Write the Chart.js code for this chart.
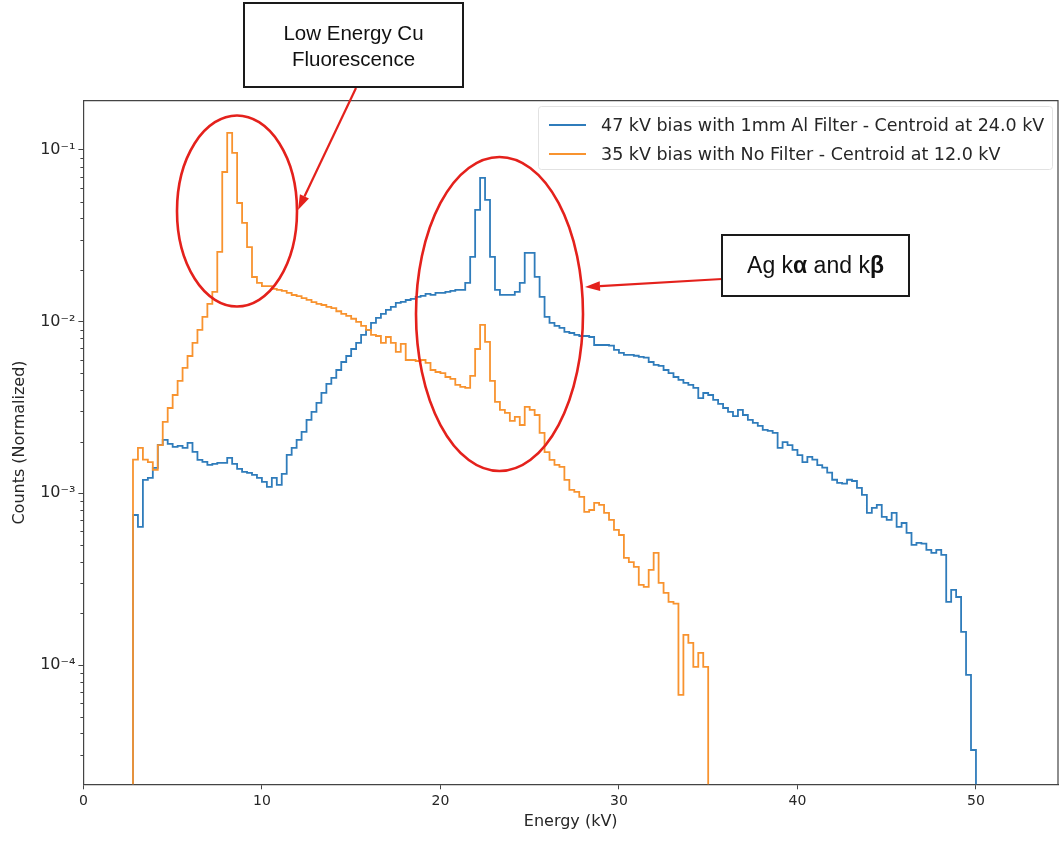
<!DOCTYPE html>
<html>
<head>
<meta charset="utf-8">
<script src="https://cdn.jsdelivr.net/npm/chart.js@4.4.1/dist/chart.umd.min.js"></script>
<style>
  html, body { margin: 0; padding: 0; background: #ffffff; }
  #wrap { width: 1061px; height: 841px; position: relative; }
</style>
</head>
<body>
<div id="wrap"><canvas id="spectrum" width="1061" height="841"></canvas></div>
<script>
// Histogram binning (kV): left edge of the first bin and bin width
const binStartKV = 2.778;
const binWidthKV = 0.2778;

// Normalized counts per bin, 47 kV tube bias through 1 mm Al
const filteredCounts = [
  7.48e-4, 6.37e-4, 1.197e-3, 1.229e-3, 1.406e-3, 1.913e-3, 2.046e-3, 1.939e-3, 1.863e-3, 1.888e-3,
  1.838e-3, 1.966e-3, 1.742e-3, 1.565e-3, 1.524e-3, 1.463e-3, 1.483e-3, 1.503e-3, 1.503e-3, 1.607e-3,
  1.483e-3, 1.387e-3, 1.332e-3, 1.315e-3, 1.280e-3, 1.229e-3, 1.165e-3, 1.090e-3, 1.229e-3, 1.119e-3,
  1.297e-3, 1.674e-3, 1.838e-3, 2.046e-3, 2.278e-3, 2.676e-3, 2.979e-3, 3.362e-3, 3.843e-3, 4.337e-3,
  4.699e-3, 5.23e-3, 5.82e-3, 6.31e-3, 6.93e-3, 7.52e-3, 8.37e-3, 8.95e-3, 9.83e-3, 1.051e-2,
  1.109e-2, 1.170e-2, 1.218e-2, 1.285e-2, 1.302e-2, 1.337e-2, 1.356e-2, 1.393e-2, 1.412e-2, 1.450e-2,
  1.431e-2, 1.470e-2, 1.470e-2, 1.489e-2, 1.510e-2, 1.530e-2, 1.530e-2, 1.680e-2, 2.381e-2, 4.472e-2,
  6.868e-2, 5.114e-2, 2.381e-2, 1.530e-2, 1.431e-2, 1.431e-2, 1.431e-2, 1.489e-2, 1.680e-2, 2.512e-2,
  2.512e-2, 1.822e-2, 1.393e-2, 1.065e-2, 9.83e-3, 9.44e-3, 9.19e-3, 8.71e-3, 8.59e-3, 8.37e-3,
  8.25e-3, 8.25e-3, 8.14e-3, 7.31e-3, 7.31e-3, 7.31e-3, 7.25e-3, 6.84e-3, 6.57e-3, 6.40e-3,
  6.40e-3, 6.33e-3, 6.23e-3, 6.18e-3, 5.82e-3, 5.60e-3, 5.52e-3, 5.23e-3, 5.02e-3, 4.76e-3,
  4.58e-3, 4.40e-3, 4.28e-3, 4.11e-3, 3.59e-3, 3.84e-3, 3.74e-3, 3.50e-3, 3.32e-3, 3.14e-3,
  2.98e-3, 2.82e-3, 3.06e-3, 2.86e-3, 2.68e-3, 2.57e-3, 2.47e-3, 2.34e-3, 2.31e-3, 2.25e-3,
  1.84e-3, 1.99e-3, 1.91e-3, 1.79e-3, 1.67e-3, 1.52e-3, 1.63e-3, 1.57e-3, 1.46e-3, 1.41e-3,
  1.32e-3, 1.20e-3, 1.15e-3, 1.14e-3, 1.20e-3, 1.18e-3, 1.075e-3, 9.79e-4, 7.69e-4, 8.22e-4,
  8.56e-4, 7.29e-4, 7.00e-4, 7.69e-4, 6.37e-4, 6.72e-4, 5.88e-4, 5.01e-4, 5.14e-4, 5.10e-4,
  4.68e-4, 4.50e-4, 4.68e-4, 4.38e-4, 2.33e-4, 2.74e-4, 2.49e-4, 1.559e-4, 8.77e-5, 3.20e-5
];

// Normalized counts per bin, 35 kV tube bias, unfiltered
const unfilteredCounts = [
  1.57e-3, 1.84e-3, 1.57e-3, 1.52e-3, 1.37e-3, 1.91e-3, 2.61e-3, 3.14e-3, 3.74e-3, 4.52e-3,
  5.38e-3, 6.31e-3, 7.52e-3, 8.95e-3, 1.065e-2, 1.268e-2, 1.489e-2, 2.55e-2, 7.44e-2, 0.1256,
  0.0961, 0.0491, 0.0376, 0.0272, 0.0182, 0.0168, 0.0161, 0.0161, 0.0155, 0.0153,
  0.0151, 0.0147, 0.0143, 0.0141, 0.0137, 0.0134, 0.0130, 0.0127, 0.0125, 0.0122,
  0.0120, 0.0115, 0.0111, 0.0108, 0.0104, 0.00996, 0.00944, 0.00895, 0.00837, 0.00825,
  0.00752, 0.00814, 0.00752, 0.00666, 0.00742, 0.00598, 0.00598, 0.00590, 0.00598, 0.00575,
  0.00523, 0.00509, 0.00502, 0.00476, 0.00464, 0.00428, 0.00417, 0.00411, 0.00483, 0.00693,
  0.00957, 0.00762, 0.00452, 0.00341, 0.00306, 0.00294, 0.00264, 0.00279, 0.00250, 0.00319,
  0.00306, 0.00286, 0.00225, 0.00174, 0.001565, 0.001463, 0.001425, 0.001197, 0.001047, 0.001019,
  0.000953, 0.000779, 0.000800, 0.000879, 0.000856, 0.000769, 0.000700, 0.000612, 0.000572, 0.000421,
  0.000398, 0.000373, 0.000293, 0.000285, 0.000358, 0.000450, 0.000301, 0.000263, 0.000233, 0.000228,
  0.000067, 0.0001497, 0.0001345, 0.0000975, 0.0001176, 0.0000975
];

const seriesLabels = [
  '47 kV bias with 1mm Al Filter - Centroid at 24.0 kV',
  '35 kV bias with No Filter - Centroid at 12.0 kV'
];
const xTickValues = [0, 10, 20, 30, 40, 50];
const yDecadeValues = [1e-4, 1e-3, 1e-2, 1e-1];

// axis limits
const X_MAX = 54.6;
const Y_MIN = 2.02e-5;
const Y_MAX = 0.1936;
const FLOOR = 1e-7;   // below the visible range: draws the drop to the axis

const BLUE = '#2f7cbb';
const ORANGE = '#f8932f';
const AXIS = '#444444';
const TEXT = '#262626';
const RED = '#e4211c';

// Step outline of a histogram: rises from the floor at the first edge,
// runs across each bin and falls back to the floor at the last edge.
function stepOutline(values) {
  const pts = [{ x: binStartKV, y: FLOOR }];
  values.forEach((v, i) => pts.push({ x: binStartKV + i * binWidthKV, y: v }));
  const lastEdge = binStartKV + values.length * binWidthKV;
  pts.push({ x: lastEdge, y: values[values.length - 1] });
  pts.push({ x: lastEdge, y: FLOOR });
  return pts;
}

const SUP = { '-': '\u207B', '0': '\u2070', '1': '\u00B9', '2': '\u00B2', '3': '\u00B3',
  '4': '\u2074', '5': '\u2075', '6': '\u2076', '7': '\u2077', '8': '\u2078', '9': '\u2079' };
function decadeLabel(v) {
  const e = String(Math.round(Math.log10(v)));
  return '10' + e.split('').map(c => SUP[c]).join('');
}

function arrow(ctx, x0, y0, x1, y1, head, halfWidth) {
  const ang = Math.atan2(y1 - y0, x1 - x0);
  const bx = x1 - head * Math.cos(ang), by = y1 - head * Math.sin(ang);
  ctx.beginPath();
  ctx.moveTo(x0, y0);
  ctx.lineTo(bx, by);
  ctx.stroke();
  ctx.beginPath();
  ctx.moveTo(x1, y1);
  ctx.lineTo(bx + halfWidth * Math.sin(ang), by - halfWidth * Math.cos(ang));
  ctx.lineTo(bx - halfWidth * Math.sin(ang), by + halfWidth * Math.cos(ang));
  ctx.closePath();
  ctx.fill();
}

const decorations = {
  id: 'spectrumDecor',
  afterDraw(chart) {
    const { ctx, chartArea: a, scales: { y } } = chart;
    ctx.save();

    // top and right spines
    ctx.strokeStyle = AXIS;
    ctx.lineWidth = 1.2;
    ctx.beginPath();
    ctx.moveTo(a.left, a.top);
    ctx.lineTo(a.right, a.top);
    ctx.lineTo(a.right, a.bottom);
    ctx.stroke();

    // minor ticks of the log axis
    ctx.lineWidth = 1;
    for (let e = -5; e < 0; e++) {
      for (let m = 2; m < 10; m++) {
        const v = m * Math.pow(10, e);
        if (v < Y_MIN || v > Y_MAX) continue;
        const py = Math.round(y.getPixelForValue(v)) + 0.5;
        ctx.beginPath();
        ctx.moveTo(a.left - 3, py);
        ctx.lineTo(a.left, py);
        ctx.stroke();
      }
    }

    // legend
    const lx = 538, ly = 106, lw = 514, lh = 63;
    ctx.fillStyle = 'rgba(255,255,255,0.8)';
    ctx.strokeStyle = '#e2e2e2';
    ctx.lineWidth = 1;
    ctx.beginPath();
    ctx.roundRect(lx + 0.5, ly + 0.5, lw, lh, 3);
    ctx.fill();
    ctx.stroke();
    const colors = [BLUE, ORANGE];
    ctx.font = '17.5px "DejaVu Sans"';
    ctx.textBaseline = 'middle';
    ctx.textAlign = 'left';
    seriesLabels.forEach((t, i) => {
      const yy = 125 + i * 29;
      ctx.strokeStyle = colors[i];
      ctx.lineWidth = 2;
      ctx.beginPath();
      ctx.moveTo(549, yy);
      ctx.lineTo(586, yy);
      ctx.stroke();
      ctx.fillStyle = TEXT;
      ctx.fillText(t, 601, yy + 1);
    });

    // call-outs
    ctx.strokeStyle = RED;
    ctx.fillStyle = RED;
    ctx.lineWidth = 2.6;
    ctx.beginPath();
    ctx.ellipse(237, 211, 60, 95.5, 0, 0, Math.PI * 2);
    ctx.stroke();
    ctx.beginPath();
    ctx.ellipse(499.5, 314, 83.5, 157, 0, 0, Math.PI * 2);
    ctx.stroke();
    ctx.lineWidth = 2.2;
    arrow(ctx, 356, 88, 298, 210, 15, 5);
    arrow(ctx, 722, 279, 585, 287, 15, 5);

    // text boxes
    ctx.fillStyle = '#ffffff';
    ctx.strokeStyle = '#1a1a1a';
    ctx.lineWidth = 2;
    ctx.fillRect(244, 3, 219, 84);
    ctx.strokeRect(244, 3, 219, 84);
    ctx.fillRect(722, 235, 187, 61);
    ctx.strokeRect(722, 235, 187, 61);

    ctx.fillStyle = '#111111';
    ctx.textAlign = 'center';
    ctx.font = '20.5px "Liberation Sans"';
    ctx.fillText('Low Energy Cu', 353.5, 34);
    ctx.fillText('Fluorescence', 353.5, 60);

    // "Ag kα and kβ" with bold Greek letters
    const parts = [['Ag k', false], ['\u03B1', true], [' and k', false], ['\u03B2', true]];
    const fontFor = b => (b ? 'bold ' : '') + '23px "Liberation Sans"';
    let total = 0;
    parts.forEach(([t, b]) => { ctx.font = fontFor(b); total += ctx.measureText(t).width; });
    let cx = 815.5 - total / 2;
    ctx.textAlign = 'left';
    parts.forEach(([t, b]) => {
      ctx.font = fontFor(b);
      ctx.fillText(t, cx, 267);
      cx += ctx.measureText(t).width;
    });

    ctx.restore();
  }
};

new Chart(document.getElementById('spectrum'), {
  type: 'line',
  data: {
    datasets: [
      { label: seriesLabels[0], data: stepOutline(filteredCounts), borderColor: BLUE,
        borderWidth: 1.8, stepped: 'before', pointRadius: 0, fill: false, order: 1 },
      { label: seriesLabels[1], data: stepOutline(unfilteredCounts), borderColor: ORANGE,
        borderWidth: 1.8, stepped: 'before', pointRadius: 0, fill: false, order: 0 }
    ]
  },
  options: {
    responsive: false,
    animation: false,
    devicePixelRatio: 1,
    layout: { padding: { left: 0, top: 100.7, right: 3, bottom: 0 } },
    plugins: { legend: { display: false }, tooltip: { enabled: false } },
    scales: {
      x: {
        type: 'linear', min: 0, max: X_MAX,
        afterFit(s) { s.height = 56.7; },
        afterBuildTicks(s) { s.ticks = xTickValues.map(v => ({ value: v })); },
        grid: { drawOnChartArea: false, drawTicks: true, tickLength: 5, color: AXIS, lineWidth: 1 },
        border: { display: true, color: AXIS, width: 1.2 },
        ticks: { color: TEXT, font: { family: 'DejaVu Sans', size: 14 }, padding: 4,
                 maxRotation: 0, autoSkip: false },
        title: { display: true, text: 'Energy (kV)', color: TEXT,
                 font: { family: 'DejaVu Sans', size: 16 }, padding: { top: 0, bottom: 10 } }
      },
      y: {
        type: 'logarithmic', min: Y_MIN, max: Y_MAX,
        afterFit(s) { s.width = 83.4; },
        afterBuildTicks(s) { s.ticks = yDecadeValues.map(v => ({ value: v })); },
        grid: { drawOnChartArea: false, drawTicks: true, tickLength: 5, color: AXIS, lineWidth: 1 },
        border: { display: true, color: AXIS, width: 1.2 },
        ticks: { color: TEXT, font: { family: 'DejaVu Sans', size: 16 }, padding: 3,
                 callback: v => decadeLabel(v) },
        title: { display: true, text: 'Counts (Normalized)', color: TEXT,
                 font: { family: 'DejaVu Sans', size: 16 }, padding: { top: 10, bottom: 0 } }
      }
    }
  },
  plugins: [decorations]
});
</script>
</body>
</html>
